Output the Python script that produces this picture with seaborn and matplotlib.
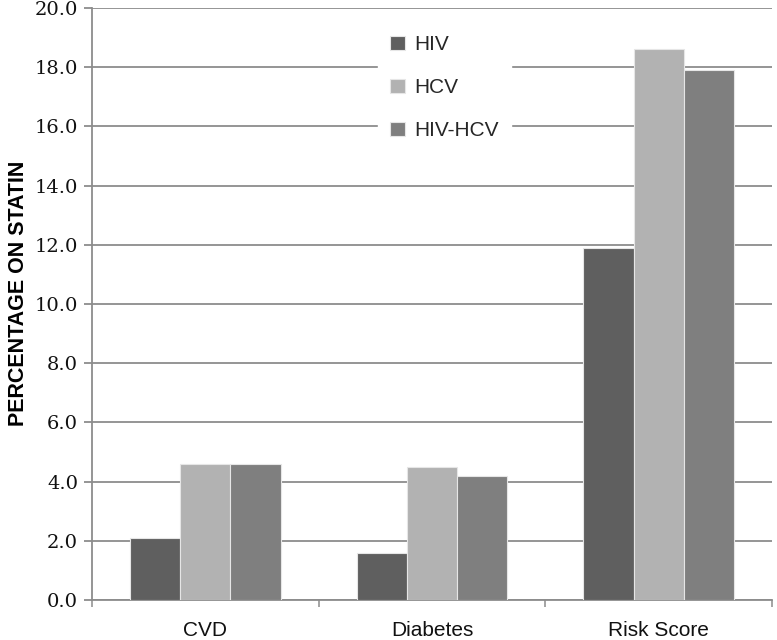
import matplotlib
matplotlib.use("Agg")
import matplotlib.pyplot as plt
import seaborn as sns
import pandas as pd

categories = ["CVD", "Diabetes", "Risk Score"]
groups = ["HIV", "HCV", "HIV-HCV"]
hiv = [2.1, 1.6, 11.9]
hcv = [4.6, 4.5, 18.6]
hiv_hcv = [4.6, 4.2, 17.9]
yticks = [0, 2, 4, 6, 8, 10, 12, 14, 16, 18, 20]

colors = {"HIV": "#5f5f5f", "HCV": "#b2b2b2", "HIV-HCV": "#7f7f7f"}

rows = []
for g, vals in zip(groups, [hiv, hcv, hiv_hcv]):
    for c, v in zip(categories, vals):
        rows.append({"Category": c, "Group": g, "Value": v})
df = pd.DataFrame(rows)

sns.set_style("white")
fig = plt.figure(figsize=(7.77, 6.40), dpi=100)
ax = fig.add_axes([0.1184, 0.0625, 0.8752, 0.925])

sns.barplot(data=df, x="Category", y="Value", hue="Group", order=categories,
            hue_order=groups, palette=colors, width=0.665, gap=0,
            edgecolor="#e6e6e6", linewidth=0.8, ax=ax, zorder=3)

ax.set_xlim(-0.5, 2.5)
ax.set_ylim(0, 20)
ax.set_yticks(yticks)
ax.set_yticklabels([f"{t:.1f}" for t in yticks], fontfamily="DejaVu Serif", fontsize=14, color="#111111")
ax.yaxis.grid(True, color="#8c8c8c", linewidth=1.3, zorder=0)
ax.set_axisbelow(True)

ax.set_xticks([0, 1, 2])
ax.set_xticklabels(categories, fontfamily="Liberation Sans", fontsize=15, color="#111111")
ax.tick_params(axis="x", length=0, pad=15)
ax.tick_params(axis="y", length=6, width=1.3, color="#8c8c8c", left=True, direction="out", pad=4)
ax.set_xticks([-0.5, 0.5, 1.5, 2.5], minor=True)
ax.tick_params(axis="x", which="minor", length=5, width=1.1, color="#8c8c8c", bottom=True, direction="out")

for s in ["top", "right"]:
    ax.spines[s].set_visible(False)
for s in ["left", "bottom"]:
    ax.spines[s].set_color("#8c8c8c")
    ax.spines[s].set_linewidth(1.3)

ax.set_xlabel("")
ax.set_ylabel("")
fig.text(19 / 777, 0.542, "PERCENTAGE ON STATIN", rotation=90, ha="center", va="center",
         fontfamily="Liberation Sans", fontweight="bold", fontsize=15.5, color="#000000")

leg = ax.legend(loc="upper left", bbox_to_anchor=(0.42, 0.975), frameon=True,
                fontsize=15, labelspacing=1.15, handlelength=0.7, handleheight=0.7,
                handletextpad=0.45, borderpad=0.6, borderaxespad=0)
leg.get_frame().set_facecolor("white")
leg.get_frame().set_edgecolor("white")
leg.get_frame().set_alpha(1)
for t in leg.get_texts():
    t.set_fontfamily("Liberation Sans")
leg.set_zorder(5)

fig.savefig("out.png", dpi=100)
